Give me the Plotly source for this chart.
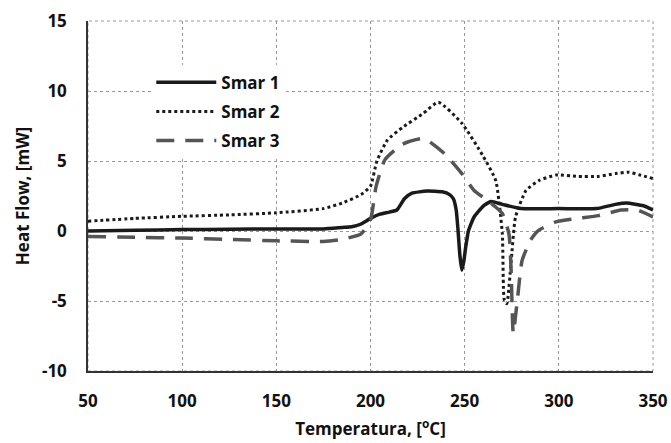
import plotly.graph_objects as go

# Smar 1 (solid)
t1 = [50, 75, 100, 125, 150, 175, 185, 190, 195, 200, 205, 210, 214, 218, 222, 230, 238, 242, 244, 245.5, 246.5, 247.5, 248.5, 249.5, 250.5, 252, 255, 260, 264, 270, 280, 300, 320, 330, 336, 345, 350]
h1 = [0.0, 0.05, 0.1, 0.12, 0.15, 0.15, 0.25, 0.3, 0.5, 0.9, 1.2, 1.35, 1.5, 2.3, 2.7, 2.85, 2.8, 2.6, 2.3, 1.5, 0.0, -1.8, -2.8, -2.2, -1.2, 0.0, 1.0, 1.8, 2.1, 1.9, 1.6, 1.6, 1.6, 1.9, 2.0, 1.8, 1.5]

# Smar 2 (dotted)
t2 = [50, 75, 100, 125, 150, 175, 185, 195, 200, 203.4, 209, 217, 228, 236, 248.5, 260, 266.5, 270, 271, 272.4, 274.6, 277, 282.6, 289.4, 298.5, 310, 321, 330, 337, 343, 350]
h2 = [0.7, 0.9, 1.05, 1.15, 1.3, 1.6, 2.0, 2.6, 3.2, 5.0, 6.5, 7.4, 8.4, 9.2, 7.7, 5.3, 3.6, -0.2, -4.9, -5.2, -2.3, 1.0, 2.9, 3.6, 4.0, 3.9, 3.9, 4.1, 4.2, 4.0, 3.75]

# Smar 3 (dashed)
t3 = [50, 75, 100, 125, 150, 175, 185, 195, 200, 203, 207.7, 217, 227, 230, 239.5, 248.5, 255, 262, 266.6, 270, 273.5, 274.6, 275.8, 278, 280.5, 285, 289.4, 298.5, 310, 321, 333, 341.6, 350]
h3 = [-0.4, -0.45, -0.5, -0.6, -0.7, -0.75, -0.6, -0.2, 0.8, 3.2, 5.1, 6.2, 6.6, 6.5, 5.5, 4.1, 2.9, 2.2, 1.7, 1.25, -0.2, -2.6, -7.3, -4.9, -2.1, -0.65, 0.06, 0.65, 0.9, 1.1, 1.5, 1.5, 1.0]

names = ["Smar 1", "Smar 2", "Smar 3"]
x_ticks = [50, 100, 150, 200, 250, 300, 350]
y_ticks = [-10, -5, 0, 5, 10, 15]
y_tick_labels = ["-10", "-5", "0", "5", "10", "15"]

fig = go.Figure()
fig.add_trace(go.Scatter(x=t1, y=h1, mode="lines", name=names[0], legendgroup="a",
                         line=dict(color="#1a1a1a", width=3.5, shape="spline", smoothing=0.5)))
fig.add_trace(go.Scatter(x=t2, y=h2, mode="lines", name=names[1], legendgroup="b",
                         line=dict(color="#1a1a1a", width=3, dash="dot", shape="spline", smoothing=0.5)))
fig.add_trace(go.Scatter(x=t3, y=h3, mode="lines", name=names[2], legendgroup="c",
                         line=dict(color="#555555", width=3.5, dash="18px,11px", shape="spline", smoothing=0.5)))

font_family = "Open Sans, Liberation Sans, Arial, sans-serif"
fig.update_layout(
    width=671, height=443,
    margin=dict(l=88, r=18, t=21, b=72),
    paper_bgcolor="white", plot_bgcolor="white",
    font=dict(family=font_family, color="#111111"),
    showlegend=True,
    legend=dict(x=0.112, y=0.875, xanchor="left", yanchor="top",
                bgcolor="white", borderwidth=0,
                font=dict(size=17, family=font_family, weight="bold", color="#111111"),
                itemwidth=60, tracegroupgap=4),
    xaxis=dict(range=[50, 350], tickvals=x_ticks, ticks="", automargin=False,
               showgrid=True, gridcolor="#999999", griddash="dot", gridwidth=1,
               showline=True, linecolor="#333333", linewidth=1.5, mirror=False,
               zeroline=False, ticklabelstandoff=14,
               tickfont=dict(size=17, weight="bold", color="#111111"),
               title=dict(text="Temperatura, [<sup>o</sup>C]", standoff=12,
                          font=dict(size=17, weight="bold", color="#111111"))),
    yaxis=dict(range=[-10, 15], tickvals=y_ticks, ticktext=y_tick_labels, ticks="", automargin=False,
               showgrid=True, gridcolor="#999999", griddash="dot", gridwidth=1,
               showline=True, linecolor="#333333", linewidth=1.5, mirror=False,
               zeroline=False, ticklabelstandoff=16,
               tickfont=dict(size=17, weight="bold", color="#111111"),
               title=dict(text="Heat Flow, [mW]", standoff=8,
                          font=dict(size=17, weight="bold", color="#111111"))),
)
fig.add_shape(type="rect", xref="paper", yref="paper", x0=0, y0=0, x1=1, y1=1,
              line=dict(color="#999999", width=1, dash="dot"), layer="below")

fig.write_html("out.html")
